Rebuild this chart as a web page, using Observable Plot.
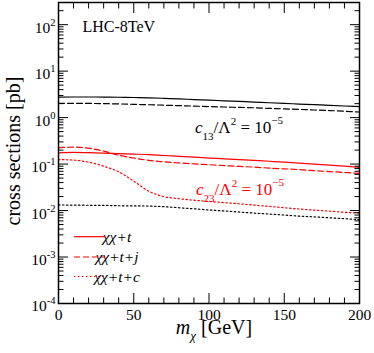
<!DOCTYPE html>
<html><head><meta charset="utf-8">
<script src="https://cdn.jsdelivr.net/npm/d3@7"></script>
<script src="https://cdn.jsdelivr.net/npm/@observablehq/plot@0.6"></script>
<style>body{margin:0;background:#fff} svg{display:block}</style>
</head><body><div id="chart"></div>
<script>
// masses (GeV)
const mass = [0,10,20,30,40,50,60,70,80,90,100,110,120,130,140,150,160,170,180,190,200];
// c13 series (black)
const c13_t   = [2.75,2.78,2.78,2.77,2.74,2.71,2.67,2.60,2.53,2.45,2.38,2.30,2.23,2.16,2.09,2.02,1.96,1.90,1.84,1.78,1.73];
const c13_tj  = [2.02,2.03,2.02,2.00,1.97,1.93,1.89,1.85,1.81,1.77,1.73,1.69,1.66,1.63,1.58,1.54,1.50,1.46,1.42,1.37,1.32];
const c13_tc  = [0.0132,0.0131,0.0130,0.0129,0.0127,0.0126,0.0125,0.0121,0.0115,0.0109,0.0103,0.0098,0.0093,0.0088,0.0084,0.0080,0.0076,0.0073,0.0070,0.0067,0.0064];
// c23 series (red)
const c23_t   = [0.175,0.178,0.176,0.172,0.168,0.164,0.160,0.153,0.147,0.141,0.135,0.130,0.125,0.120,0.115,0.110,0.105,0.100,0.095,0.090,0.085];
const c23_tj  = [0.225,0.232,0.220,0.190,0.155,0.135,0.120,0.112,0.106,0.101,0.097,0.093,0.089,0.086,0.082,0.079,0.076,0.072,0.069,0.066,0.063];
const c23_tc  = [0.125,0.122,0.110,0.090,0.068,0.043,0.026,0.020,0.018,0.0167,0.0157,0.0148,0.0140,0.0131,0.0123,0.0115,0.0108,0.0102,0.0097,0.0092,0.0088];

const xMajor = [0,50,100,150,200];
const xMinor = [10,20,30,40,60,70,80,90,110,120,130,140,160,170,180,190];
const yMajor = [1e-4,1e-3,1e-2,1e-1,1,10,100];
const yMinor = [];
for (let e = -4; e <= 2; e++) for (let m = 2; m <= 9; m++) { const v = m * 10 ** e; if (v < 300) yMinor.push(v); }

const legendLabels = ["χχ+t", "χχ+t+j", "χχ+t+c"];
const dashes = [null, "6,3", "1.5,2.5"];

const series = [
  {vals: c13_t,  color: "black", dash: dashes[0]},
  {vals: c13_tj, color: "black", dash: dashes[1]},
  {vals: c13_tc, color: "black", dash: dashes[2]},
  {vals: c23_t,  color: "red",   dash: dashes[0]},
  {vals: c23_tj, color: "red",   dash: dashes[1]},
  {vals: c23_tc, color: "red",   dash: dashes[2]},
];
const lineMarks = series.map(s => Plot.line(mass.map((m, i) => ({m, v: s.vals[i]})), {
  x: "m", y: "v", stroke: s.color, strokeWidth: 1.2, strokeDasharray: s.dash, curve: "monotone-x"
}));

const font = "'Liberation Serif', 'DejaVu Serif', serif";
const tickOnly = {fill: "none", label: null};

const plot = Plot.plot({
  width: 374, height: 353,
  marginLeft: 58, marginRight: 15, marginTop: 2, marginBottom: 50,
  style: {fontFamily: font, fontSize: "15.5px", background: "white", color: "black"},
  x: {domain: [0, 200], label: null},
  y: {type: "log", domain: [1e-4, 300], label: null},
  marks: [
    ...lineMarks,
    Plot.axisX({ticks: xMajor, anchor: "bottom", tickSize: 0, tickPadding: 5, fontSize: 15.5, label: null}),
    Plot.axisX({ticks: xMajor, anchor: "bottom", tickSize: -10, ...tickOnly}),
    Plot.axisX({ticks: xMinor, anchor: "bottom", tickSize: -5.5, ...tickOnly}),
    Plot.axisX({ticks: xMajor, anchor: "top", tickSize: -10, ...tickOnly}),
    Plot.axisX({ticks: xMinor, anchor: "top", tickSize: -5.5, ...tickOnly}),
    Plot.axisY({ticks: yMajor, anchor: "left", tickSize: 0, tickPadding: 3, fontSize: 15.5, dy: 3, label: null,
      tickFormat: d => String(Math.round(Math.log10(d)))}),
    Plot.axisY({ticks: yMajor, anchor: "left", tickSize: -10, ...tickOnly}),
    Plot.axisY({ticks: yMinor, anchor: "left", tickSize: -5.5, ...tickOnly}),
    Plot.axisY({ticks: yMajor, anchor: "right", tickSize: -10, ...tickOnly}),
    Plot.axisY({ticks: yMinor, anchor: "right", tickSize: -5.5, ...tickOnly}),
    Plot.frame({stroke: "black", strokeWidth: 1.5}),
    Plot.text(["LHC-8TeV"], {frameAnchor: "top-left", dx: 24, dy: 18, fontSize: 16, textAnchor: "start"})
  ]
});

const svg = d3.select(plot);
// superscript exponents on y tick labels
svg.selectAll('[aria-label="y-axis tick label"] text').each(function() {
  const e = this.textContent.replace("−", "-");
  const t = d3.select(this);
  t.text(null);
  t.append("tspan").text("10");
  t.append("tspan").attr("dy", -7).attr("font-size", 10.5).text(e);
});

function rich(x, y, color, parts, size) {
  const t = svg.append("text").attr("x", x).attr("y", y).attr("fill", color)
    .attr("font-size", size).attr("font-family", font);
  for (const p of parts) {
    const s = t.append("tspan").text(p.t);
    if (p.dy) s.attr("dy", p.dy);
    if (p.fs) s.attr("font-size", p.fs);
    if (p.it) s.attr("font-style", "italic");
  }
  return t;
}
function coupling(x, y, color, sub) {
  rich(x, y, color, [
    {t: "c", it: true},
    {t: sub, dy: 7, fs: 11},
    {t: "/Λ", dy: -7},
    {t: "2", dy: -8, fs: 11},
    {t: " = 10", dy: 8},
    {t: "−5", dy: -9, fs: 11}
  ], 17);
}
coupling(239, 133, "black", "13");
coupling(240, 195, "red", "23");

// legend
const legY = [236.7, 257, 276.5];
legendLabels.forEach((lab, i) => {
  svg.append("line").attr("x1", 74).attr("x2", 105).attr("y1", legY[i]).attr("y2", legY[i])
    .attr("stroke", "red").attr("stroke-width", 1.2).attr("stroke-dasharray", dashes[i]);
  rich(117, legY[i] + 5, "black", [{t: lab, it: true}], 15.5);
});

// axis titles
rich(214, 334, "black", [{t: "m", it: true}, {t: "χ", it: true, dy: 6, fs: 13}, {t: " [GeV]", dy: -6}], 20)
  .attr("text-anchor", "middle");
svg.append("text").attr("transform", "translate(20,151) rotate(-90)").attr("text-anchor", "middle")
  .attr("font-size", 20).attr("font-family", font).text("cross sections [pb]");

document.getElementById("chart").appendChild(plot);
</script>
</body></html>
